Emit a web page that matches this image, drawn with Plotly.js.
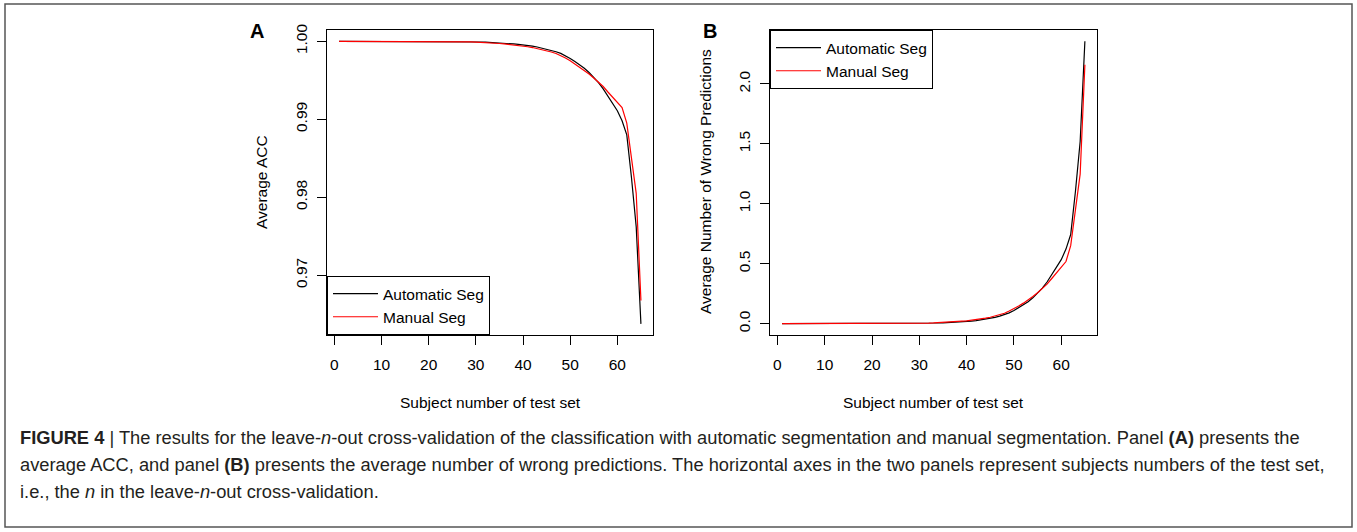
<!DOCTYPE html>
<html>
<head>
<meta charset="utf-8">
<script src="https://cdn.plot.ly/plotly-3.0.1.min.js"></script>
<style>html,body{margin:0;padding:0;background:#fff;}#chart{width:1357px;height:532px;}</style>
</head>
<body>
<div id="chart"></div>
<script>
// Subject number of test set (n in leave-n-out)
const subjectN = [1,2,3,4,5,6,7,8,9,10,11,12,13,14,15,16,17,18,19,20,21,22,23,24,25,26,27,28,29,30,31,32,33,34,35,36,37,38,39,40,41,42,43,44,45,46,47,48,49,50,51,52,53,54,55,56,57,58,59,60,61,62,63,64,65];

// Panel A: average ACC
const accAutomatic = [1,1,1,1,1,1,1,1,1,1,1,1,1,1,1,0.999999,0.999998,0.999997,0.999996,0.999995,0.999993,0.999991,0.999988,0.999985,0.99998,0.999973,0.999965,0.999955,0.99994,0.99992,0.99991,0.99989,0.999865,0.99983,0.9998,0.99976,0.99971,0.99966,0.99961,0.99955,0.99947,0.99938,0.99927,0.99914,0.9990,0.99884,0.99866,0.99845,0.99815,0.9978,0.9974,0.9970,0.99655,0.9960,0.9954,0.9947,0.9939,0.9930,0.9920,0.9911,0.9898,0.9880,0.9825,0.9762,0.96376];
const accManual = [1,1,1,1,1,1,1,1,1,1,1,1,1,1,1,0.999999,0.999998,0.999997,0.999995,0.999993,0.999991,0.999988,0.999985,0.99998,0.999974,0.999966,0.999956,0.999943,0.999925,0.9999,0.99988,0.99985,0.99981,0.99977,0.99972,0.99966,0.9996,0.99953,0.99947,0.9994,0.9993,0.9992,0.99908,0.99895,0.9988,0.99863,0.99843,0.99818,0.99785,0.9975,0.9971,0.9967,0.9963,0.9958,0.9953,0.99475,0.9942,0.9935,0.9928,0.9922,0.9915,0.9895,0.9850,0.9805,0.96676];

// Panel B: average number of wrong predictions
const wrongAutomatic = [0,0,0,0,0,0,0,0,0,0,0,0,0,0,0,0,0,0.0001,0.0001,0.0001,0.0001,0.0002,0.0003,0.0004,0.0005,0.0007,0.0009,0.0013,0.0017,0.0024,0.0028,0.0035,0.0045,0.0058,0.0070,0.0086,0.0107,0.0129,0.0152,0.0180,0.0217,0.0260,0.0314,0.0378,0.0450,0.0534,0.0630,0.0744,0.0907,0.1100,0.1326,0.1560,0.1829,0.2160,0.2530,0.2968,0.3477,0.4060,0.4720,0.5340,0.6222,0.7440,1.1025,1.5200,2.3556];
const wrongManual = [0,0,0,0,0,0,0,0,0,0,0,0,0,0,0,0,0,0.0001,0.0001,0.0001,0.0002,0.0003,0.0003,0.0005,0.0007,0.0009,0.0012,0.0016,0.0022,0.0030,0.0037,0.0048,0.0063,0.0078,0.0098,0.0122,0.0148,0.0179,0.0207,0.0240,0.0287,0.0336,0.0396,0.0462,0.0540,0.0630,0.0738,0.0874,0.1054,0.1250,0.1479,0.1716,0.1961,0.2268,0.2585,0.2940,0.3306,0.3770,0.4248,0.4680,0.5185,0.6510,0.9450,1.2480,2.1606];

const seriesNames = ["Automatic Seg", "Manual Seg"];
const xTicks = [0,10,20,30,40,50,60];
const yTicksA = [0.97,0.98,0.99,1.00];
const yTickTextA = ["0.97","0.98","0.99","1.00"];
const yTicksB = [0,0.5,1,1.5,2];
const yTickTextB = ["0.0","0.5","1.0","1.5","2.0"];

const W = 1357, H = 532;
const px = v => v / W;
const py = v => 1 - v / H;
const FONT = "Liberation Sans, Arial, Helvetica, sans-serif";

const traces = [
  {x: subjectN, y: accAutomatic, name: seriesNames[0], type: "scatter", mode: "lines",
   line: {color: "#000000", width: 1.2}, xaxis: "x", yaxis: "y", legend: "legend"},
  {x: subjectN, y: accManual, name: seriesNames[1], type: "scatter", mode: "lines",
   line: {color: "#ff0000", width: 1.2}, xaxis: "x", yaxis: "y", legend: "legend"},
  {x: subjectN, y: wrongAutomatic, name: seriesNames[0], type: "scatter", mode: "lines",
   line: {color: "#000000", width: 1.2}, xaxis: "x2", yaxis: "y2", legend: "legend2"},
  {x: subjectN, y: wrongManual, name: seriesNames[1], type: "scatter", mode: "lines",
   line: {color: "#ff0000", width: 1.2}, xaxis: "x2", yaxis: "y2", legend: "legend2"}
];

const axisCommon = {
  showline: true, mirror: true, linecolor: "#000", linewidth: 1,
  ticks: "outside", ticklen: 9, tickcolor: "#000", tickwidth: 1,
  showgrid: false, zeroline: false, fixedrange: true,
  tickfont: {family: FONT, size: 15.5, color: "#000"}
};

const legendCommon = {
  bgcolor: "#ffffff", bordercolor: "#000", borderwidth: 1,
  font: {family: FONT, size: 15.5, color: "#000"},
  xanchor: "left", tracegroupgap: 0, itemclick: false, itemwidth: 45
};

const layout = {
  width: W, height: H,
  margin: {l: 0, r: 0, t: 0, b: 0},
  paper_bgcolor: "#fff", plot_bgcolor: "#fff",
  showlegend: true,
  xaxis: Object.assign({}, axisCommon, {domain: [px(327), px(653)], range: [-1.56, 67.56],
    tickmode: "array", tickvals: xTicks, anchor: "y", ticklabelstandoff: 6}),
  yaxis: Object.assign({}, axisCommon, {domain: [py(335), py(30)], range: [0.96233, 1.00145],
    tickmode: "array", tickvals: yTicksA, ticktext: yTickTextA, tickangle: -90, anchor: "x", ticklabelstandoff: 4}),
  xaxis2: Object.assign({}, axisCommon, {domain: [px(770), px(1097)], range: [-1.56, 67.56],
    tickmode: "array", tickvals: xTicks, anchor: "y2", ticklabelstandoff: 6}),
  yaxis2: Object.assign({}, axisCommon, {domain: [py(335), py(30)], range: [-0.0942, 2.4498],
    tickmode: "array", tickvals: yTicksB, ticktext: yTickTextB, tickangle: -90, anchor: "x2", ticklabelstandoff: 4}),
  legend: Object.assign({}, legendCommon, {x: px(327), y: py(335), yanchor: "bottom"}),
  legend2: Object.assign({}, legendCommon, {x: px(770), y: py(30), yanchor: "top"}),
  shapes: [
    {type: "rect", xref: "paper", yref: "paper", x0: px(5), x1: px(1352), y0: py(527), y1: py(4),
     line: {color: "#555", width: 1.5}, fillcolor: "rgba(0,0,0,0)", layer: "below"}
  ],
  annotations: [
    {text: "<b>A</b>", xref: "paper", yref: "paper", x: px(257), y: py(31), xanchor: "center", yanchor: "middle",
     showarrow: false, font: {family: FONT, size: 20, color: "#000"}},
    {text: "<b>B</b>", xref: "paper", yref: "paper", x: px(710), y: py(31), xanchor: "center", yanchor: "middle",
     showarrow: false, font: {family: FONT, size: 20, color: "#000"}},
    {text: "Subject number of test set", xref: "paper", yref: "paper", x: px(490), y: py(402), xanchor: "center", yanchor: "middle",
     showarrow: false, font: {family: FONT, size: 15.5, color: "#000"}},
    {text: "Subject number of test set", xref: "paper", yref: "paper", x: px(933.5), y: py(402), xanchor: "center", yanchor: "middle",
     showarrow: false, font: {family: FONT, size: 15.5, color: "#000"}},
    {text: "Average ACC", xref: "paper", yref: "paper", x: px(262), y: py(182), xanchor: "center", yanchor: "middle", textangle: -90,
     showarrow: false, font: {family: FONT, size: 15.5, color: "#000"}},
    {text: "Average Number of Wrong Predictions", xref: "paper", yref: "paper", x: px(706), y: py(182), xanchor: "center", yanchor: "middle", textangle: -90,
     showarrow: false, font: {family: FONT, size: 15.5, color: "#000"}},
    {text: "<b>FIGURE 4</b> | The results for the leave-<i>n</i>-out cross-validation of the classification with automatic segmentation and manual segmentation. Panel <b>(A)</b> presents the",
     xref: "paper", yref: "paper", x: px(18), y: py(437), xanchor: "left", yanchor: "middle",
     showarrow: false, font: {family: FONT, size: 18.3, color: "#231f20"}},
    {text: "average ACC, and panel <b>(B)</b> presents the average number of wrong predictions. The horizontal axes in the two panels represent subjects numbers of the test set,",
     xref: "paper", yref: "paper", x: px(18), y: py(464), xanchor: "left", yanchor: "middle",
     showarrow: false, font: {family: FONT, size: 18.3, color: "#231f20"}},
    {text: "i.e., the <i>n</i> in the leave-<i>n</i>-out cross-validation.",
     xref: "paper", yref: "paper", x: px(18), y: py(491), xanchor: "left", yanchor: "middle",
     showarrow: false, font: {family: FONT, size: 18.3, color: "#231f20"}}
  ]
};

Plotly.newPlot("chart", traces, layout, {displayModeBar: false, staticPlot: true});
</script>
</body>
</html>
